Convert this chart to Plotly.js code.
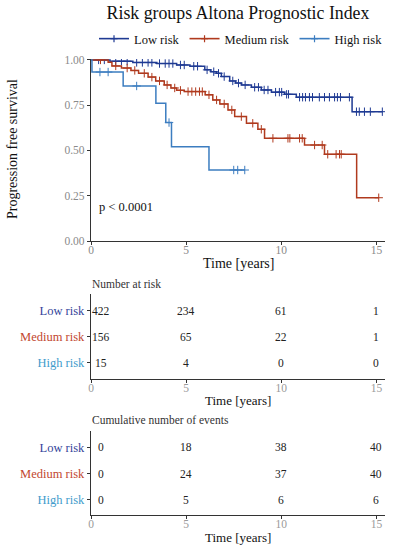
<!DOCTYPE html>
<html>
<head>
<meta charset="utf-8">
<script src="https://cdn.plot.ly/plotly-3.0.1.min.js"></script>
<style>html,body{margin:0;padding:0;background:#fff;}#chart{width:397px;height:550px;}</style>
</head>
<body>
<div id="chart"></div>
<script>
// ---- data ----
var groups = ['Low risk', 'Medium risk', 'High risk'];
var groupColors = ['#1f3a93', '#b03a1e', '#3c7dc0'];
var labelColors = ['#34449a', '#c2472f', '#3f9ccc'];

var lowTime = [0, 1.0, 2.2, 3.46, 4.5, 5.2, 5.98, 6.3, 6.59, 6.85, 7.29, 7.6, 7.9, 8.43, 8.95, 9.48, 10.17, 10.79, 13.72, 15.31];
var lowSurv = [1.0, 0.993, 0.986, 0.980, 0.972, 0.965, 0.945, 0.935, 0.926, 0.908, 0.884, 0.872, 0.862, 0.849, 0.834, 0.822, 0.810, 0.794, 0.714, 0.714];
var lowCens = [0.4, 0.7, 1.3, 1.6, 1.9, 2.4, 2.7, 3.0, 3.2, 3.6, 3.9, 4.1, 4.3, 4.7, 4.9, 5.4, 5.6, 6.1, 6.45, 6.7, 7.0, 7.45, 7.75, 8.1, 8.6, 8.8, 9.1, 9.3, 9.7, 9.9, 10.02, 10.28, 10.38, 10.96, 11.12, 11.27, 11.48, 11.64, 12.0, 12.27, 12.53, 12.8, 12.95, 13.11, 13.58, 13.95, 14.1, 14.37, 14.68, 15.31];

var medTime = [0, 0.9, 1.1, 1.6, 2.1, 2.5, 3.0, 3.4, 3.85, 4.2, 4.5, 4.9, 6.0, 6.4, 6.77, 7.2, 7.55, 8.17, 8.77, 9.12, 11.22, 12.27, 13.96, 15.12];
var medSurv = [1.0, 0.987, 0.967, 0.955, 0.942, 0.926, 0.905, 0.884, 0.862, 0.845, 0.832, 0.825, 0.807, 0.779, 0.757, 0.724, 0.687, 0.650, 0.617, 0.567, 0.530, 0.479, 0.239, 0.239];
var medCens = [0.5, 1.3, 1.9, 2.3, 2.8, 3.2, 3.6, 4.0, 4.4, 4.7, 5.1, 5.3, 5.5, 5.7, 5.85, 6.2, 6.6, 7.0, 7.4, 7.9, 8.5, 8.95, 9.56, 10.35, 10.45, 10.96, 11.1, 11.75, 12.15, 12.44, 12.88, 13.06, 13.15, 15.12];

var highTime = [0, 0.05, 1.69, 3.41, 3.93, 4.23, 6.20, 8.08];
var highSurv = [1.0, 0.933, 0.856, 0.761, 0.654, 0.521, 0.392, 0.392];
var highCens = [0.47, 0.9, 2.40, 4.1, 7.5, 7.71, 8.08];

var tableTimes = [0, 5, 10, 15];
var riskLow = [422, 234, 61, 1];
var riskMed = [156, 65, 22, 1];
var riskHigh = [15, 4, 0, 0];
var evLow = [0, 18, 38, 40];
var evMed = [0, 24, 37, 40];
var evHigh = [0, 5, 6, 6];

var survTicks = [0, 0.25, 0.5, 0.75, 1.0];
var timeTicks = [0, 5, 10, 15];
var pText = 'p < 0.0001';

// ---- build ----
var FONT = 'Liberation Serif, Times New Roman, serif';
var curves = [[lowTime, lowSurv, lowCens], [medTime, medSurv, medCens], [highTime, highSurv, highCens]];

function stepAt(times, surv, t) {
  var v = surv[0];
  for (var i = 0; i < times.length; i++) { if (times[i] <= t) v = surv[i]; }
  return v;
}

var traces = [];
curves.forEach(function (c, g) {
  traces.push({
    x: c[0], y: c[1], type: 'scatter', mode: 'lines', line: {shape: 'hv', color: groupColors[g], width: 1.5},
    showlegend: false, hoverinfo: 'skip', xaxis: 'x', yaxis: 'y'
  });
  traces.push({
    x: c[2], y: c[2].map(function (t) { return stepAt(c[0], c[1], t); }),
    type: 'scatter', mode: 'markers',
    marker: {symbol: 'cross-thin-open', size: 6, color: groupColors[g], line: {width: 1, color: groupColors[g]}},
    showlegend: false, hoverinfo: 'skip', xaxis: 'x', yaxis: 'y'
  });
});
// legend entries
groups.forEach(function (name, g) {
  traces.push({
    x: [null], y: [null], type: 'scatter', mode: 'lines+markers', name: name,
    line: {color: groupColors[g], width: 1.6},
    marker: {symbol: 'cross-thin-open', size: 5, color: groupColors[g], line: {width: 1.2, color: groupColors[g]}},
    xaxis: 'x', yaxis: 'y', hoverinfo: 'skip'
  });
});

var rowPos = [2, 1, 0];
var riskRows = [riskLow, riskMed, riskHigh];
var evRows = [evLow, evMed, evHigh];
var annotations = [];

function addTable(rows, xref, yref) {
  rows.forEach(function (vals, g) {
    vals.forEach(function (v, i) {
      annotations.push({
        x: tableTimes[i], y: rowPos[g], xref: xref, yref: yref, text: String(v), showarrow: false,
        xanchor: 'center', yanchor: 'middle', xshift: i === 0 ? 9.5 : 0,
        font: {family: FONT, size: 11.5, color: '#222'}
      });
    });
  });
}
addTable(riskRows, 'x2', 'y2');
addTable(evRows, 'x3', 'y3');

function px2x(px) { return px / 397; }
function py2y(py) { return 1 - py / 550; }

annotations.push({x: 0.3, y: 0.19, xref: 'x', yref: 'y', text: pText, showarrow: false, xanchor: 'left', yanchor: 'middle',
  font: {family: FONT, size: 12.5, color: '#111'}});
annotations.push({x: px2x(12), y: py2y(149), xref: 'paper', yref: 'paper', text: 'Progression free survival', textangle: -90,
  showarrow: false, xanchor: 'center', yanchor: 'middle', font: {family: FONT, size: 14, color: '#111'}});
[[263, 14], [400, 13], [537.5, 13]].forEach(function (p) {
  annotations.push({x: px2x(238), y: py2y(p[0]), xref: 'paper', yref: 'paper', text: 'Time [years]', showarrow: false,
    xanchor: 'center', yanchor: 'middle', font: {family: FONT, size: p[1], color: '#111'}});
});
annotations.push({x: px2x(90), y: py2y(284), xref: 'paper', yref: 'paper', text: 'Number at risk', showarrow: false,
  xanchor: 'left', yanchor: 'middle', font: {family: FONT, size: 11.5, color: '#333'}});
annotations.push({x: px2x(90), y: py2y(420), xref: 'paper', yref: 'paper', text: 'Cumulative number of events', showarrow: false,
  xanchor: 'left', yanchor: 'middle', font: {family: FONT, size: 11.5, color: '#333'}});

var xDomain = [91 / 397, 385 / 397];
var xRange = [0, 15.45];
function xAxis(anchor, tickColor) {
  return {domain: xDomain, range: xRange, anchor: anchor, tickvals: timeTicks, ticktext: timeTicks.map(String),
    showline: true, linecolor: '#333', linewidth: 1.2, ticks: 'outside', ticklen: 3, tickcolor: '#333', tickwidth: 1,
    ticklabelstandoff: -5,
    showgrid: false, zeroline: false, tickfont: {family: FONT, size: 11.5, color: tickColor}, fixedrange: true};
}
var rowTickText = groups.map(function (n, g) { return '<span style="color:' + labelColors[g] + '">' + n + '</span>'; });
function tableY(anchor, dom, rng) {
  return {domain: dom, range: rng, anchor: anchor, tickvals: rowPos, ticktext: rowTickText,
    showline: true, linecolor: '#333', linewidth: 1.2, ticks: 'outside', ticklen: 3, tickcolor: '#333', tickwidth: 1,
    showgrid: false, zeroline: false, tickfont: {family: FONT, size: 12.5}, fixedrange: true};
}

var layout = {
  width: 397, height: 550, autosize: false,
  margin: {l: 0, r: 0, t: 0, b: 0},
  paper_bgcolor: '#fff', plot_bgcolor: '#fff',
  font: {family: FONT, color: '#111'},
  title: {text: 'Risk groups Altona Prognostic Index', font: {family: FONT, size: 17.8, color: '#111'},
    x: px2x(238), xanchor: 'center', y: py2y(13), yanchor: 'middle', xref: 'paper', yref: 'paper'},
  showlegend: true,
  legend: {orientation: 'h', x: px2x(241), xanchor: 'center', y: py2y(39), yanchor: 'middle', itemwidth: 30,
    font: {family: FONT, size: 12.5, color: '#111'}, bgcolor: 'rgba(0,0,0,0)', traceorder: 'normal'},
  xaxis: xAxis('y', '#8a8a8a'),
  yaxis: {domain: [py2y(241), py2y(59)], range: [0, 1.005], anchor: 'x', tickvals: survTicks,
    ticktext: survTicks.map(function (v) { return v.toFixed(2); }),
    showline: true, linecolor: '#333', linewidth: 1.2, ticks: 'outside', ticklen: 3, tickcolor: '#333', tickwidth: 1,
    showgrid: false, zeroline: false, tickfont: {family: FONT, size: 11.5, color: '#8a8a8a'}, fixedrange: true},
  xaxis2: xAxis('y2', '#9a9a9a'),
  yaxis2: tableY('x2', [py2y(378.5), py2y(294)], [-0.6, 2.65]),
  xaxis3: xAxis('y3', '#9a9a9a'),
  yaxis3: tableY('x3', [py2y(515), py2y(431)], [-0.58, 2.63]),
  annotations: annotations,
  hovermode: false
};

Plotly.newPlot('chart', traces, layout, {displayModeBar: false, staticPlot: true});
</script>
</body>
</html>
